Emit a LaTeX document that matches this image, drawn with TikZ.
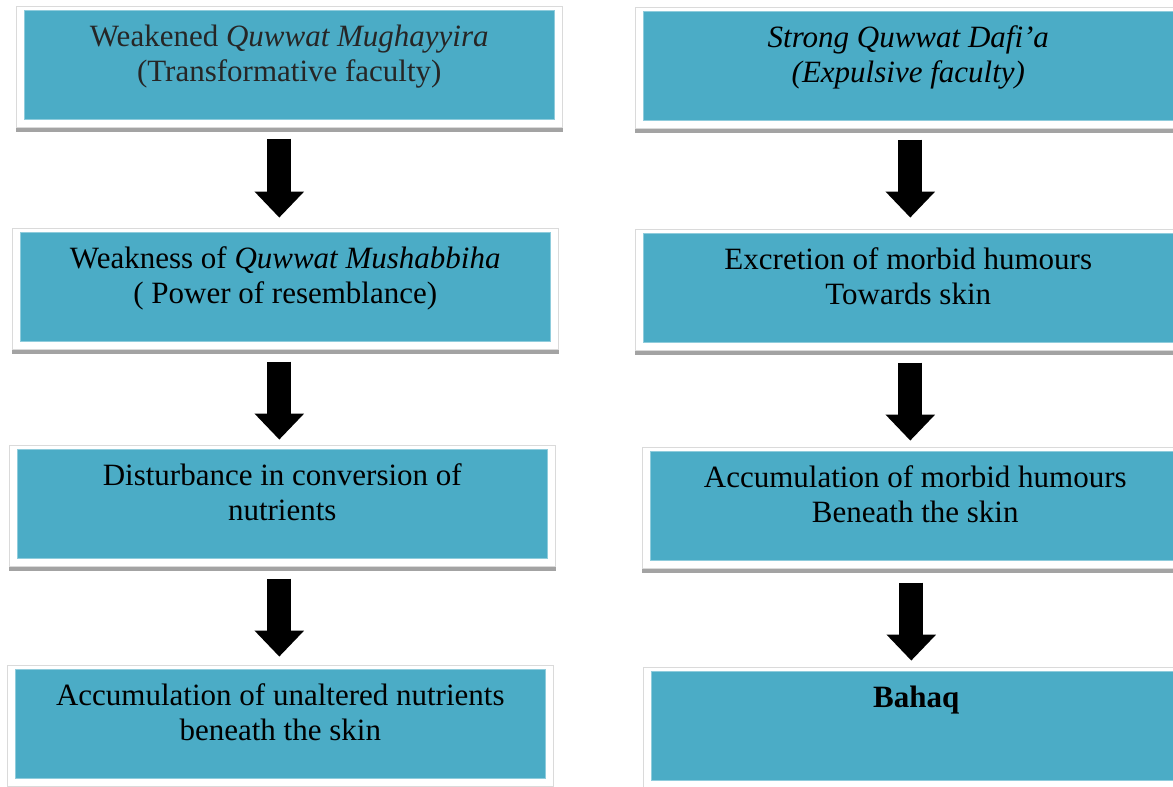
\documentclass[tikz,border=0pt]{standalone}
\usepackage{fontspec}
\setmainfont{Liberation Serif}
\usetikzlibrary{arrows.meta}
\definecolor{tealfill}{HTML}{4BACC6}
\definecolor{tealedge}{HTML}{8FCCDC}
\definecolor{framegray}{HTML}{DADADA}
\definecolor{bargray}{HTML}{A3A3A3}
\tikzset{
  stepbox/.style={fill=tealfill, draw=tealedge, line width=0.6pt, inner sep=0pt,
    anchor=north west, font=\fontsize{31}{35}\selectfont},
  framebox/.style={draw=framegray, line width=0.8pt},
  blockarrow/.style={line width=24pt, black, -{Triangle[width=48pt,length=26pt]}},
}
\newcommand\boxtext[1]{\parbox[c][109pt][t]{530pt}{\centering\vspace*{11.5pt}\strut#1\strut}}
\newcommand\framearound[1]{%
  \draw[framebox] ([xshift=-8pt,yshift=4pt]#1.north west) rectangle ([xshift=8pt,yshift=-8pt]#1.south east);
  \fill[bargray] ([xshift=-8pt,yshift=-8.5pt]#1.south west) rectangle ([xshift=8pt,yshift=-12pt]#1.south east);}
\begin{document}
\begin{tikzpicture}[x=1pt,y=1pt]
\useasboundingbox (0,0) rectangle (1173,-787);
\clip (0,0) rectangle (1173,-787);
% left column
\node[stepbox] (L1) at (24,-10) {\boxtext{\color{black!85}Weakened \textit{Quwwat Mughayyira}\\(Transformative faculty)}};
\node[stepbox] (L2) at (20,-232) {\boxtext{Weakness of \textit{Quwwat Mushabbiha}\\( Power of resemblance)}};
\node[stepbox] (L3) at (17,-449) {\boxtext{Disturbance in conversion of\\nutrients}};
\node[stepbox] (L4) at (15,-669) {\boxtext{Accumulation of unaltered nutrients\\beneath the skin}};
% right column
\node[stepbox] (R1) at (643,-11) {\boxtext{\textit{Strong Quwwat Dafi’a}\\\textit{(Expulsive faculty)}}};
\node[stepbox] (R2) at (643,-233) {\boxtext{Excretion of morbid humours\\Towards skin}};
\node[stepbox] (R3) at (650,-451) {\boxtext{Accumulation of morbid humours\\Beneath the skin}};
\node[stepbox] (R4) at (651,-671) {\boxtext{\textbf{Bahaq}}};
% frames and shadows
\framearound{L1}\framearound{L2}\framearound{L3}\framearound{L4}
\framearound{R1}\framearound{R2}\framearound{R3}\framearound{R4}
% arrows
\draw[blockarrow] ([xshift=-10pt,yshift=-19pt]L1.south) -- ++(0,-79pt);
\draw[blockarrow] ([xshift=-6pt,yshift=-20pt]L2.south) -- ++(0,-78pt);
\draw[blockarrow] ([xshift=-3pt,yshift=-20pt]L3.south) -- ++(0,-78pt);
\draw[blockarrow] ([xshift=2pt,yshift=-19pt]R1.south) -- ++(0,-78pt);
\draw[blockarrow] ([xshift=2pt,yshift=-20pt]R2.south) -- ++(0,-78pt);
\draw[blockarrow] ([xshift=-4pt,yshift=-22pt]R3.south) -- ++(0,-78pt);
\end{tikzpicture}
\end{document}
